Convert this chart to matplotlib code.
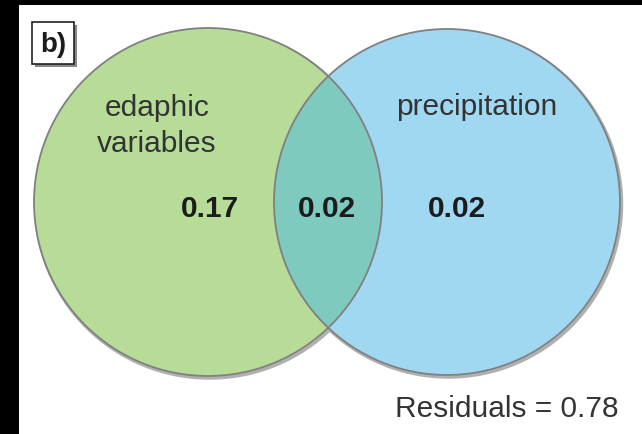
import matplotlib
matplotlib.use("Agg")
import matplotlib.pyplot as plt
from matplotlib.patches import Circle, Rectangle

# Data
set_labels = ["edaphic\nvariables", "precipitation"]
fractions = [0.17, 0.02, 0.02]   # edaphic only, shared, precipitation only
residual = 0.78
panel_label = "b)"

plt.rcParams['font.family'] = ['Liberation Sans', 'DejaVu Sans']

fig = plt.figure(figsize=(6.42, 4.35), dpi=100, facecolor="white")
ax = fig.add_axes([0, 0, 1, 1])
ax.set_xlim(0, 642)
ax.set_ylim(435, 0)
ax.set_facecolor("white")
ax.axis("off")

# black frame bands (left and top)
ax.add_patch(Rectangle((0, 0), 19, 435, facecolor="black", edgecolor="none", zorder=10))
ax.add_patch(Rectangle((0, 0), 642, 6, facecolor="black", edgecolor="none", zorder=10))

green = "#b6dc97"
blue = "#a0d7f1"
teal = "#7ecabf"
edge = "#808080"

cg = (208, 203); rg = 174
cb = (447, 203); rb = 173

# shadows
ax.add_patch(Circle((cg[0]+1.5, cg[1]+2), rg, facecolor="none", edgecolor="#b0b0b0", lw=2.5, zorder=1))
ax.add_patch(Circle((cb[0]+1.5, cb[1]+2), rb, facecolor="none", edgecolor="#b0b0b0", lw=2.5, zorder=1))

g = Circle(cg, rg, facecolor=green, edgecolor="none", zorder=2)
b = Circle(cb, rb, facecolor=blue, edgecolor="none", zorder=3)
ax.add_patch(g); ax.add_patch(b)
inter = Circle(cg, rg, facecolor=teal, edgecolor="none", zorder=4)
ax.add_patch(inter)
clipc = Circle(cb, rb, transform=ax.transData)
inter.set_clip_path(clipc)
ax.add_patch(Circle(cg, rg, facecolor="none", edgecolor=edge, lw=1.3, zorder=5))
ax.add_patch(Circle(cb, rb, facecolor="none", edgecolor=edge, lw=1.3, zorder=5))

fs = 21.5
tc = "#1c1c1c"
ax.text(157, 126, set_labels[0], ha="center", va="center", fontsize=fs, color="#333333",
        linespacing=1.32, zorder=6)
ax.text(477, 107, set_labels[1], ha="center", va="center", fontsize=fs, color="#333333", zorder=6)

for x, v in zip([210, 327, 457], fractions):
    ax.text(x, 209, f"{v:.2f}", ha="center", va="center", fontsize=fs, fontweight="bold",
            color=tc, zorder=6)

ax.text(507, 409, f"Residuals = {residual:.2f}", ha="center", va="center", fontsize=fs,
        color="#333333", zorder=6)

# panel label box
ax.add_patch(Rectangle((35, 26), 42, 42, facecolor="#888888", edgecolor="none", zorder=6))
ax.add_patch(Rectangle((32, 23), 42, 42, facecolor="white", edgecolor="#222222", lw=1.2, zorder=7))
ax.text(53, 45, panel_label, ha="center", va="center", fontsize=20, fontweight="bold",
        color=tc, zorder=8)

fig.savefig("out.png", dpi=100, facecolor="white")
